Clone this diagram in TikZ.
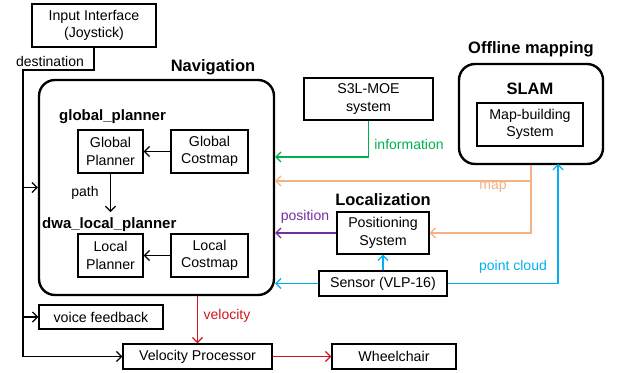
\documentclass[tikz,border=0pt]{standalone}
\usepackage{fontspec}
\setmainfont{Liberation Sans}
\usetikzlibrary{arrows.meta}
\definecolor{cgreen}{RGB}{0,176,80}
\definecolor{corange}{RGB}{244,177,131}
\definecolor{cpurple}{RGB}{112,48,160}
\definecolor{cblue}{RGB}{0,176,240}
\definecolor{cred}{RGB}{210,20,30}
\tikzset{
  box/.style={draw, line width=1.4pt, inner sep=0pt, align=center,
    font=\fontsize{14.2}{17.5}\selectfont},
  bigbox/.style={draw, line width=2.4pt, rounded corners=16pt, inner sep=0pt},
  ttl/.style={font=\bfseries\fontsize{16.5}{19}\selectfont, inner sep=0pt},
  sub/.style={font=\bfseries\fontsize{15}{18}\selectfont, inner sep=0pt, anchor=west},
  lbl/.style={font=\fontsize{14}{16}\selectfont, inner sep=0pt},
  conn/.style={line width=1.2pt, -{Straight Barb[length=5pt,width=10pt]}},
  plain/.style={line width=1.2pt}
}
\begin{document}
\begin{tikzpicture}[x=1pt,y=-1pt]
\useasboundingbox (0,0) rectangle (617,372);
% boxes
\node[box, minimum width=124pt, minimum height=43pt] (inp) at (94,25.5) {Input Interface\\(Joystick)};
\node[bigbox, minimum width=235pt, minimum height=215pt] (nav) at (156.5,187.5) {};
\node[box, minimum width=65pt, minimum height=43pt] (gp) at (110.5,151.5) {Global\\Planner};
\node[box, minimum width=77pt, minimum height=43pt] (gc) at (209.5,151.5) {Global\\Costmap};
\node[box, minimum width=65pt, minimum height=43pt] (lp) at (110.5,255.5) {Local\\Planner};
\node[box, minimum width=77pt, minimum height=43pt] (lc) at (209.5,255.5) {Local\\Costmap};
\node[box, minimum width=124pt, minimum height=24pt] (voice) at (101,317) {voice feedback};
\node[box, minimum width=149pt, minimum height=25pt] (vp) at (197.5,356.5) {Velocity Processor};
\node[box, minimum width=124pt, minimum height=25pt] (wc) at (394,356.5) {Wheelchair};
\node[box, minimum width=129pt, minimum height=42pt] (s3l) at (368.5,99) {S3L-MOE\\system};
\node[bigbox, minimum width=144pt, minimum height=100pt] (slam) at (531,114) {};
\node[box, minimum width=106pt, minimum height=43pt] (mb) at (530,124.5) {Map-building\\System};
\node[box, minimum width=92pt, minimum height=42pt] (pos) at (383,233) {Positioning\\System};
\node[box, minimum width=128pt, minimum height=25pt] (sen) at (383,283.5) {Sensor (VLP-16)};
% titles
\node[ttl] (tnav) at (213,67) {Navigation};
\node[sub] (tgp) at (59,117) {global\_planner};
\node[sub] (tlp) at (42,225) {dwa\_local\_planner};
\node[ttl] (toff) at (531,49) {Offline mapping};
\node[ttl] (tslam) at (530,89) {SLAM};
\node[ttl] (tloc) at (383,200) {Localization};
% coordinates
\coordinate (d1) at (23,70);
\coordinate (pathend) at (110.5,212);
\coordinate (ig) at (300,157);
\coordinate (mg) at (300,181);
\coordinate (pc) at (558,164);
% destination
\draw[conn] (inp.south) -- (inp.south |- d1) -- (d1) |- (vp.west);
\draw[conn] (d1 |- nav.west) -- (nav.west);
\draw[conn] (d1 |- voice.west) -- (voice.west);
\node[lbl] (ldest) at (50,61) {destination};
% inside navigation
\draw[conn] (gc.west) -- (gp.east);
\draw[conn] (gp.south) -- (pathend);
\node[lbl] (lpath) at (85,193) {path};
\draw[conn] (lc.west) -- (lp.east);
% information
\draw[conn, cgreen] (s3l.south) |- (nav.east |- ig);
\node[lbl, text=cgreen] (linfo) at (409,144) {information};
% map
\draw[conn, corange] (slam.south) |- (pos.east);
\draw[conn, corange] (slam.south |- mg) -- (nav.east |- mg);
\node[lbl, text=corange] (lmap) at (493,187) {map};
% position
\draw[conn, cpurple] (pos.west) -- (nav.east |- pos.west);
\node[lbl, text=cpurple] (lpos) at (305,217) {position};
% sensor
\draw[conn, cblue] (sen.west) -- (nav.east |- sen.west);
\draw[conn, cblue] (sen.north) -- (pos.south);
\draw[conn, cblue] (sen.east) -| (pc);
\node[lbl, text=cblue] (lpc) at (513,267) {point cloud};
% velocity
\draw[conn, cred] (vp.north |- nav.south) -- (vp.north);
\node[lbl, text=cred] (lvel) at (227,316) {velocity};
\draw[conn, cred] (vp.east) -- (wc.west);
\end{tikzpicture}
\end{document}
